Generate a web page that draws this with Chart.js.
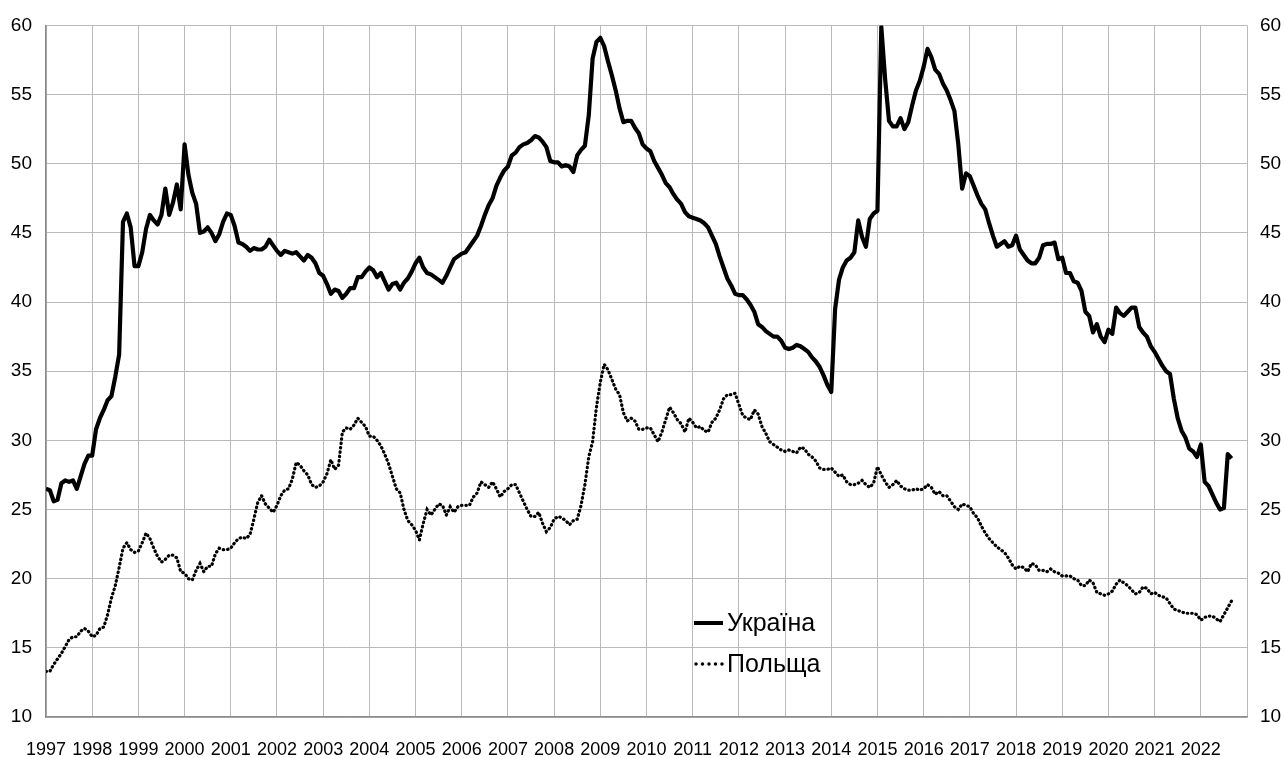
<!DOCTYPE html>
<html>
<head>
<meta charset="utf-8">
<script src="https://cdn.jsdelivr.net/npm/chart.js@4.4.1/dist/chart.umd.min.js"></script>
<style>
  html, body { margin: 0; padding: 0; background: #fff; }
  #wrap { position: relative; width: 1284px; height: 758px; }
  #legend {
    position: absolute; left: 694px; top: 602px;
    font-family: "Liberation Sans", Arial, sans-serif; font-size: 25px; color: #000;
  }
  #legend .row { display: flex; align-items: center; height: 41px; }
  #legend svg { width: 31px; height: 10px; margin-right: 2px; }
</style>
</head>
<body>
<div id="wrap">
  <canvas id="grafic" width="1284" height="758"></canvas>
  <div id="legend">
    <div class="row"><svg viewBox="0 0 31 10"><line x1="0" y1="5" x2="29" y2="5" stroke="#000" stroke-width="4"/></svg><span>Україна</span></div>
    <div class="row"><svg viewBox="0 0 31 10"><line x1="2" y1="5" x2="29" y2="5" stroke="#000" stroke-width="3.5" stroke-linecap="round" stroke-dasharray="0 6.5"/></svg><span>Польща</span></div>
  </div>
</div>
<script>
/* Україна / Польща — щомісячний ряд, 1997–2022 */

const ROK_POCHATKU = 1997;
const ROKY = ['1997','1998','1999','2000','2001','2002','2003','2004','2005','2006','2007','2008','2009',
              '2010','2011','2012','2013','2014','2015','2016','2017','2018','2019','2020','2021','2022'];

// Україна, щомісяця з січня 1997
const ukraina = [
  26.5, 26.4, 25.6, 25.7, 26.9, 27.1, 27.0, 27.1, 26.5, 27.4, 28.3, 28.9, // 1997
  28.9, 30.8, 31.6, 32.2, 32.9, 33.2, 34.6, 36.2, 45.8, 46.4, 45.4, 42.6, // 1998
  42.6, 43.6, 45.3, 46.3, 45.9, 45.6, 46.3, 48.2, 46.3, 47.2, 48.5, 46.7, // 1999
  51.4, 49.2, 47.9, 47.1, 45.0, 45.1, 45.4, 45.0, 44.4, 44.9, 45.8, 46.4, // 2000
  46.3, 45.5, 44.3, 44.2, 44.0, 43.7, 43.9, 43.8, 43.8, 44.0, 44.5, 44.1, // 2001
  43.7, 43.4, 43.7, 43.6, 43.5, 43.6, 43.3, 43.0, 43.4, 43.2, 42.8, 42.1, // 2002
  41.9, 41.3, 40.6, 40.9, 40.8, 40.3, 40.6, 41.0, 41.0, 41.8, 41.8, 42.2, // 2003
  42.5, 42.3, 41.8, 42.1, 41.5, 40.9, 41.3, 41.4, 40.9, 41.4, 41.7, 42.2, // 2004
  42.8, 43.2, 42.5, 42.1, 42.0, 41.8, 41.6, 41.4, 41.9, 42.5, 43.1, 43.3, // 2005
  43.5, 43.6, 44.0, 44.4, 44.8, 45.5, 46.3, 47.0, 47.5, 48.4, 49.0, 49.5, // 2006
  49.8, 50.6, 50.8, 51.2, 51.4, 51.5, 51.7, 52.0, 51.9, 51.6, 51.2, 50.2, // 2007
  50.1, 50.1, 49.8, 49.9, 49.8, 49.4, 50.6, 51.0, 51.3, 53.5, 57.6, 58.8, // 2008
  59.1, 58.5, 57.4, 56.4, 55.3, 54.0, 53.0, 53.1, 53.1, 52.6, 52.2, 51.4, // 2009
  51.1, 50.9, 50.2, 49.7, 49.2, 48.6, 48.3, 47.8, 47.4, 47.1, 46.5, 46.2, // 2010
  46.1, 46.0, 45.9, 45.7, 45.4, 44.8, 44.2, 43.3, 42.5, 41.7, 41.2, 40.6, // 2011
  40.5, 40.5, 40.2, 39.8, 39.3, 38.4, 38.2, 37.9, 37.7, 37.5, 37.5, 37.2, // 2012
  36.7, 36.6, 36.7, 36.9, 36.8, 36.6, 36.4, 36.0, 35.7, 35.3, 34.7, 34.0, // 2013
  33.5, 39.5, 41.6, 42.5, 43.0, 43.2, 43.6, 45.9, 44.7, 44.0, 46.0, 46.4, // 2014
  46.6, 59.9, 56.1, 53.1, 52.7, 52.7, 53.3, 52.5, 53.0, 54.2, 55.3, 56.0, // 2015
  57.0, 58.3, 57.7, 56.8, 56.5, 55.8, 55.3, 54.6, 53.8, 51.4, 48.2, 49.3, // 2016
  49.1, 48.4, 47.7, 47.1, 46.7, 45.7, 44.8, 44.0, 44.2, 44.4, 44.0, 44.1, // 2017
  44.8, 43.8, 43.4, 43.0, 42.8, 42.8, 43.2, 44.1, 44.2, 44.2, 44.3, 43.1, // 2018
  43.2, 42.1, 42.1, 41.5, 41.4, 40.8, 39.3, 39.0, 37.8, 38.4, 37.5, 37.1, // 2019
  38.0, 37.7, 39.6, 39.2, 39.0, 39.3, 39.6, 39.6, 38.2, 37.8, 37.5, 36.8, // 2020
  36.4, 35.9, 35.4, 35.0, 34.8, 33.0, 31.6, 30.7, 30.2, 29.4, 29.2, 28.8, // 2021
  29.7, 27.0, 26.7, 26.1, 25.5, 25.0, 25.1, 29.0, 28.7                   // 2022
];

// Польща, щомісяця з січня 1997
const polshcha = [
  13.3, 13.3, 13.8, 14.2, 14.6, 15.1, 15.6, 15.8, 15.8, 16.2, 16.4, 16.2, // 1997
  15.8, 15.9, 16.4, 16.5, 17.4, 18.6, 19.5, 20.8, 22.2, 22.6, 22.1, 21.9, // 1998
  22.0, 22.6, 23.3, 22.9, 22.2, 21.6, 21.2, 21.4, 21.7, 21.7, 21.5, 20.5, // 1999
  20.4, 20.0, 19.9, 20.6, 21.1, 20.5, 20.9, 20.9, 21.8, 22.2, 22.1, 22.1, // 2000
  22.2, 22.6, 22.9, 23.0, 22.9, 23.2, 24.3, 25.5, 26.0, 25.4, 25.1, 24.8, // 2001
  25.3, 26.0, 26.4, 26.5, 27.2, 28.4, 28.2, 27.8, 27.5, 26.8, 26.6, 26.7, // 2002
  27.0, 27.6, 28.6, 27.9, 28.2, 30.6, 30.9, 30.8, 31.1, 31.6, 31.3, 31.0, // 2003
  30.3, 30.3, 30.0, 29.6, 29.0, 28.3, 27.4, 26.5, 26.2, 25.0, 24.2, 23.9, // 2004
  23.5, 22.8, 24.0, 25.0, 24.6, 25.0, 25.4, 25.3, 24.6, 25.2, 24.8, 25.2, // 2005
  25.3, 25.3, 25.3, 25.9, 26.2, 27.0, 26.8, 26.6, 27.0, 26.5, 25.9, 26.3, // 2006
  26.5, 26.8, 26.8, 26.2, 25.6, 25.0, 24.5, 24.5, 24.8, 24.0, 23.4, 23.7, // 2007
  24.3, 24.5, 24.4, 24.2, 23.9, 24.2, 24.3, 25.3, 26.8, 28.8, 29.9, 32.4, // 2008
  34.2, 35.5, 35.1, 34.4, 33.7, 33.3, 32.0, 31.4, 31.6, 31.4, 30.8, 30.8, // 2009
  30.9, 30.9, 30.4, 29.9, 30.6, 31.5, 32.4, 32.0, 31.5, 31.2, 30.6, 31.6, // 2010
  31.3, 30.9, 31.0, 30.7, 30.6, 31.3, 31.6, 32.2, 33.0, 33.3, 33.3, 33.4, // 2011
  32.6, 31.8, 31.6, 31.5, 32.2, 31.9, 31.0, 30.5, 29.9, 29.7, 29.5, 29.3, // 2012
  29.2, 29.3, 29.2, 29.1, 29.5, 29.4, 29.0, 28.8, 28.5, 28.0, 27.9, 27.9, // 2013
  28.0, 27.7, 27.4, 27.5, 27.0, 26.8, 26.8, 26.9, 27.1, 26.8, 26.6, 26.9, // 2014
  28.1, 27.5, 27.0, 26.6, 26.8, 27.1, 26.7, 26.5, 26.4, 26.4, 26.5, 26.4, // 2015
  26.5, 26.8, 26.6, 26.1, 26.3, 26.0, 26.0, 25.6, 25.2, 25.0, 25.4, 25.3, // 2016
  25.2, 24.7, 24.4, 23.8, 23.3, 22.9, 22.6, 22.3, 22.1, 21.9, 21.5, 21.0, // 2017
  20.7, 20.9, 20.8, 20.5, 21.1, 21.0, 20.6, 20.6, 20.5, 20.7, 20.5, 20.4, // 2018
  20.2, 20.2, 20.2, 20.0, 19.9, 19.5, 19.5, 19.9, 19.7, 19.0, 18.9, 18.8, // 2019
  18.9, 19.1, 19.6, 19.9, 19.7, 19.5, 19.2, 18.9, 19.0, 19.4, 19.3, 18.9, // 2020
  19.0, 18.8, 18.7, 18.6, 18.2, 17.8, 17.7, 17.6, 17.5, 17.5, 17.5, 17.4, // 2021
  17.0, 17.2, 17.3, 17.3, 17.1, 16.9, 17.4, 17.9, 18.4                   // 2022
];

const Y_MIN = 10, Y_MAX = 60, Y_KROK = 5;

const SHRYFT = '"Liberation Sans", Arial, sans-serif';
const SITKA = '#bababa';
const VIS = '#8c8c8c';

const doTochok = arr => arr.map((v, i) => ({ x: ROK_POCHATKU + i / 12, y: v }));

const ctx = document.getElementById('grafic').getContext('2d');

new Chart(ctx, {
  type: 'line',
  data: {
    datasets: [
      {
        label: 'Україна',
        data: doTochok(ukraina),
        borderColor: '#000',
        borderWidth: 4.2,
        borderJoinStyle: 'round',
        pointRadius: 0,
        tension: 0,
      },
      {
        label: 'Польща',
        data: doTochok(polshcha),
        borderColor: '#000',
        borderWidth: 3.2,
        borderDash: [0.5, 3.9],
        borderCapStyle: 'round',
        pointRadius: 0,
        tension: 0,
      }
    ]
  },
  options: {
    animation: false,
    responsive: false,
    devicePixelRatio: 1,
    layout: { padding: { top: 19, left: 0, right: 0, bottom: 0 } },
    plugins: {
      legend: { display: false },
      tooltip: { enabled: false }
    },
    scales: {
      x: {
        type: 'linear',
        min: ROK_POCHATKU,
        max: ROK_POCHATKU + ROKY.length,
        afterBuildTicks: scale => {
          const t = [];
          for (let r = scale.min; r <= scale.max; r++) t.push({ value: r });
          scale.ticks = t;
        },
        afterFit: scale => { scale.height = 41; },
        ticks: {
          autoSkip: false,
          maxRotation: 0,
          padding: 22,
          color: '#000',
          font: { family: SHRYFT, size: 18 },
          callback: v => ROKY[v - ROK_POCHATKU] || ''
        },
        grid: { color: SITKA, lineWidth: 1, drawTicks: false },
        border: { color: VIS, width: 1.5 }
      },
      y: {
        position: 'left',
        min: Y_MIN, max: Y_MAX,
        afterFit: scale => { scale.width = 46; },
        ticks: {
          stepSize: Y_KROK,
          padding: 14,
          color: '#000',
          font: { family: SHRYFT, size: 19 }
        },
        grid: { color: SITKA, lineWidth: 1, drawTicks: false },
        border: { color: VIS, width: 1.5 }
      },
      y2: {
        position: 'right',
        min: Y_MIN, max: Y_MAX,
        afterFit: scale => { scale.width = 37; },
        ticks: {
          stepSize: Y_KROK,
          padding: 13,
          color: '#000',
          font: { family: SHRYFT, size: 19 }
        },
        grid: { display: false, drawTicks: false },
        border: { display: false }
      }
    }
  }
});
</script>
</body>
</html>
